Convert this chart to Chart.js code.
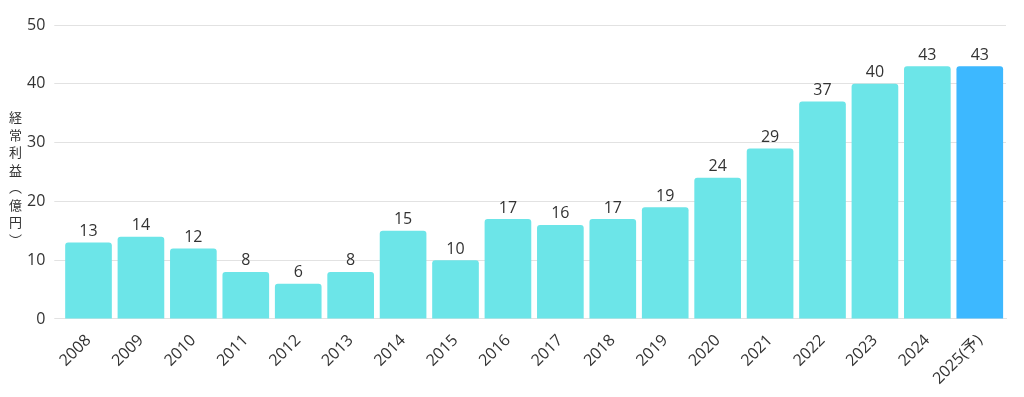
<!DOCTYPE html>
<html>
<head>
<meta charset="utf-8">
<script src="https://cdn.jsdelivr.net/npm/chart.js@4"></script>
<style>
  html, body { margin: 0; padding: 0; background: #fff; overflow: hidden; }
  #wrap { position: relative; width: 1024px; height: 397px; overflow: hidden; }
  #box { position: absolute; left: 0; top: 0; width: 1024px; height: 414px; }
  #ytitle {
    position: absolute; left: 6px; top: 111px;
    writing-mode: vertical-rl; font-family: "Noto Sans CJK JP", sans-serif;
    font-size: 13px; color: #333; letter-spacing: 4.5px;
  }
</style>
</head>
<body>
<div id="wrap">
  <div id="box"><canvas id="chart"></canvas></div>
  <div id="ytitle">経常利益（億円）</div>
</div>
<script>
const years = ['2008', '2009', '2010', '2011', '2012', '2013', '2014', '2015', '2016',
    '2017', '2018', '2019', '2020', '2021', '2022', '2023', '2024', '2025(予)'];
const profit = [13, 14, 12, 8, 6, 8, 15, 10, 17, 16, 17, 19, 24, 29, 37, 40, 43, 43];
const yTicks = [0, 10, 20, 30, 40, 50];

const barColor = '#6ce5e8';
const forecastColor = '#3db8ff';
const font = '"Open Sans", "Noto Sans CJK JP", sans-serif';

// values above the bars
const valueLabels = {
    id: 'valueLabels',
    afterDatasetsDraw(chart) {
        const ctx = chart.ctx;
        const meta = chart.getDatasetMeta(0);
        ctx.save();
        ctx.font = '16px ' + font;
        ctx.fillStyle = '#333';
        ctx.textAlign = 'center';
        ctx.textBaseline = 'bottom';
        meta.data.forEach((bar, i) => {
            ctx.fillText(profit[i], bar.x, bar.y - 3);
        });
        ctx.restore();
    }
};

const ctx = document.getElementById('chart').getContext('2d');
new Chart(ctx, {
    type: 'bar',
    data: {
        labels: years,
        datasets: [{
            data: profit,
            backgroundColor: years.map((y, i) => i === years.length - 1 ? forecastColor : barColor),
            borderRadius: 3,
            borderSkipped: 'bottom',
            barPercentage: 0.89,
            categoryPercentage: 1
        }]
    },
    options: {
        responsive: true,
        maintainAspectRatio: false,
        animation: false,
        layout: { padding: { left: 18, right: 18, top: 25, bottom: 0 } },
        plugins: {
            legend: { display: false },
            tooltip: { enabled: false }
        },
        scales: {
            x: {
                grid: { display: false },
                border: { display: true, color: '#e2e2e2' },
                ticks: {
                    color: '#333',
                    font: { family: font, size: 16 },
                    maxRotation: 45,
                    minRotation: 45,
                    padding: 4
                },
                title: {
                    display: true,
                    text: '年度',
                    color: '#333',
                    font: { family: font, size: 13 },
                    padding: { top: 6, bottom: 0 }
                }
            },
            y: {
                min: 0,
                max: 50,
                afterBuildTicks: axis => { axis.ticks = yTicks.map(v => ({ value: v })); },
                grid: { color: '#e2e2e2' },
                border: { display: false },
                ticks: {
                    color: '#333',
                    font: { family: font, size: 16 },
                    padding: 9
                }
            }
        }
    },
    plugins: [valueLabels]
});
</script>
</body>
</html>
